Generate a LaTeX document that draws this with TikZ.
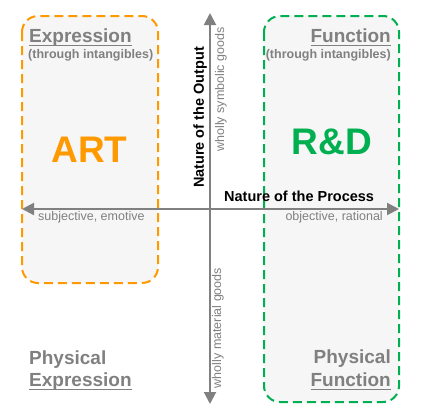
\documentclass[tikz,border=0pt]{standalone}
\usepackage{fontspec}
\setmainfont{Liberation Sans}
\usepackage{xcolor}
\usetikzlibrary{arrows.meta}

\definecolor{artorange}{HTML}{FF9900}
\definecolor{rdgreen}{HTML}{00B050}
\definecolor{boxfill}{HTML}{F6F6F6}
\definecolor{axisgray}{HTML}{808080}

% underlined label with a thicker rule
\newcommand{\ulabel}[1]{\setbox0\hbox{#1}\rlap{\rule[-4pt]{\wd0}{1.5pt}}\box0}

\tikzset{
	quadbox/.style={line width=2pt, dash pattern=on 9pt off 5pt, fill=boxfill, rounded corners=16pt},
	axisline/.style={line width=2pt, draw=axisgray, {Triangle[length=12pt,width=12pt]}-{Triangle[length=12pt,width=12pt]}},
	heading/.style={text=axisgray, font=\bfseries\fontsize{19}{22}\selectfont, inner sep=0pt},
	note/.style={text=axisgray, font=\bfseries\fontsize{12.5}{14}\selectfont, inner sep=0pt},
	pole/.style={text=axisgray, font=\fontsize{12.5}{14}\selectfont, inner sep=0pt},
	axistitle/.style={font=\bfseries\fontsize{14.5}{16}\selectfont, inner sep=0pt},
	big/.style={font=\bfseries\fontsize{37}{40}\selectfont, inner sep=0pt}
}

\begin{document}
\begin{tikzpicture}[x=1pt, y=-1pt]
	\useasboundingbox (0,0) rectangle (434,418);
	% the two quadrant boxes
	\draw [quadbox, draw=artorange] (22,16) rectangle (158,283);
	\draw [quadbox, draw=rdgreen] (264,16) rectangle (399,402);

	% axes
	\coordinate (west) at (22,209);
	\coordinate (east) at (399,209);
	\coordinate (north) at (210,13);
	\coordinate (south) at (210,404);
	\draw [axisline] (west) -- (east);
	\draw [axisline] (north) -- (south);

	% axis titles and poles
	\node (output) [axistitle, rotate=90] at (200,117.5) {Nature of the Output};
	\node (process) [axistitle, anchor=base west] at (224,201) {Nature of the Process};
	\node (symbolic) [pole, rotate=90] at (221,89.5) {wholly symbolic goods};
	\node (material) [pole, rotate=90] at (218,328) {wholly material goods};
	\node (subjective) [pole, anchor=west] at (38,217) {subjective, emotive};
	\node (objective) [pole, anchor=east] at (383,217) {objective, rational};

	% upper labels
	\node (expr) [heading, anchor=base west] at (29,42) {\ulabel{Expression}};
	\node (exprnote) [note, anchor=west] at (28,55) {(through intangibles)};
	\node (func) [heading, anchor=base east] at (391,42) {\ulabel{Function}};
	\node (funcnote) [note, anchor=east] at (391,55) {(through intangibles)};

	% big words
	\node (art) [big, text=artorange] at (89.5,150) {ART};
	\node (rd) [big, text=rdgreen] at (332,142) {R\&D};

	% lower labels
	\node (physexp) [heading, anchor=base west] at (29,364) {Physical};
	\node (physexp2) [heading, anchor=base west] at (29,386) {\ulabel{Expression}};
	\node (physfunc) [heading, anchor=base east] at (391,363) {Physical};
	\node (physfunc2) [heading, anchor=base east] at (391,386) {\ulabel{Function}};
\end{tikzpicture}
\end{document}
